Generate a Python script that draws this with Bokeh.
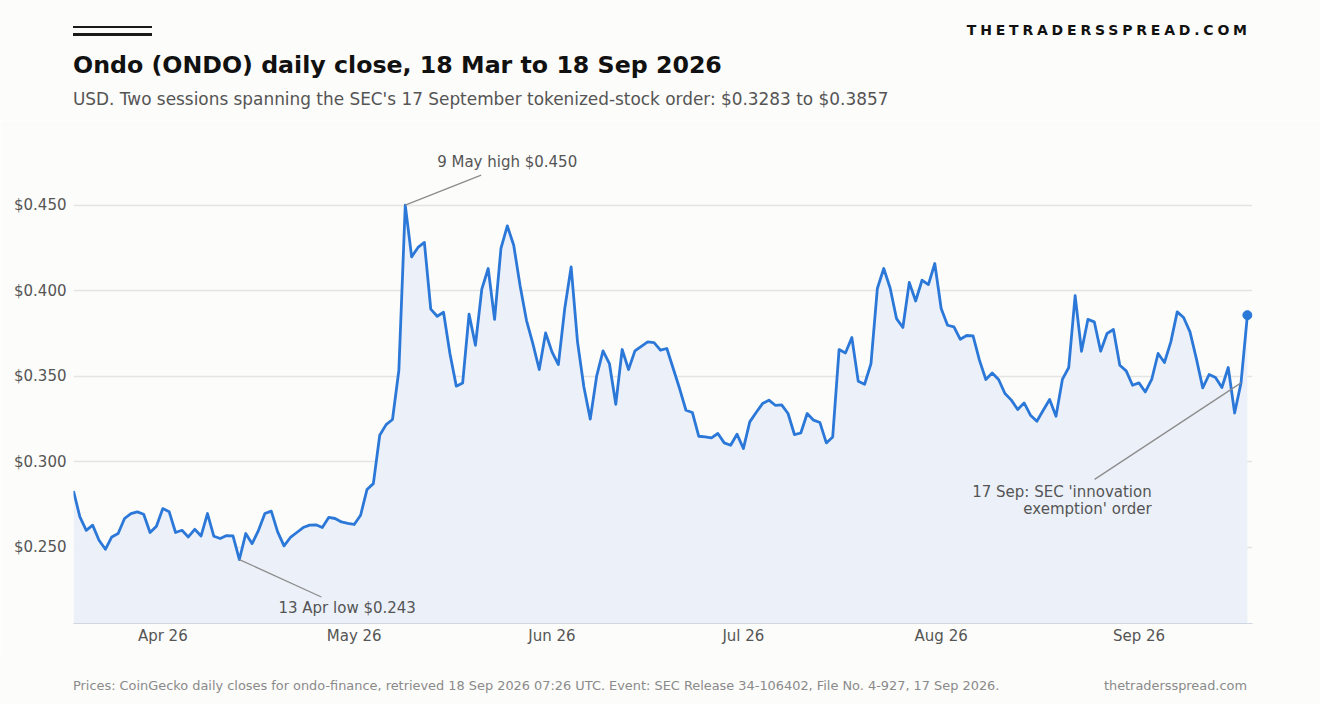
import pandas as pd
from bokeh.plotting import figure
from bokeh.models import (ColumnDataSource, Div, Label, Range1d, FixedTicker,
                          DatetimeTickFormatter, NumeralTickFormatter)
from bokeh.layouts import column
from bokeh.embed import file_html
from bokeh.resources import INLINE

# daily closes, USD, 18 Mar .. 18 Sep 2026
START = "2026-03-18"
END = "2026-09-18"
EVENT_DAY = "2026-09-17"
CLOSES = [
    0.2829, 0.2677, 0.2599, 0.2629, 0.2541, 0.2488, 0.2560, 0.2580, 0.2668, 0.2697,
    0.2707, 0.2693, 0.2586, 0.2623, 0.2726, 0.2707, 0.2586, 0.2599, 0.2560, 0.2605,
    0.2566, 0.2697, 0.2564, 0.2551, 0.2568, 0.2566, 0.2428, 0.2580, 0.2521, 0.2599,
    0.2697, 0.2711, 0.2590, 0.2508, 0.2557, 0.2586, 0.2615, 0.2629, 0.2631, 0.2615,
    0.2674, 0.2668, 0.2648, 0.2640, 0.2633, 0.2687, 0.2837, 0.2872, 0.3155, 0.3217,
    0.3247, 0.3535, 0.4500, 0.4198, 0.4253, 0.4282, 0.3892, 0.3851, 0.3874, 0.3633,
    0.3442, 0.3461, 0.3863, 0.3681, 0.4009, 0.4130, 0.3832, 0.4247, 0.4379, 0.4266,
    0.4029, 0.3827, 0.3691, 0.3539, 0.3753, 0.3642, 0.3568, 0.3896, 0.4139, 0.3701,
    0.3437, 0.3249, 0.3500, 0.3648, 0.3574, 0.3336, 0.3656, 0.3539, 0.3648, 0.3675,
    0.3701, 0.3697, 0.3652, 0.3662, 0.3545, 0.3428, 0.3301, 0.3288, 0.3149, 0.3145,
    0.3139, 0.3165, 0.3110, 0.3096, 0.3161, 0.3077, 0.3233, 0.3288, 0.3340, 0.3360,
    0.3330, 0.3332, 0.3282, 0.3159, 0.3168, 0.3282, 0.3243, 0.3229, 0.3110, 0.3145,
    0.3656, 0.3636, 0.3726, 0.3471, 0.3453, 0.3574, 0.4013, 0.4130, 0.4016, 0.3837,
    0.3785, 0.4048, 0.3940, 0.4061, 0.4036, 0.4159, 0.3896, 0.3798, 0.3788, 0.3716,
    0.3738, 0.3736, 0.3594, 0.3481, 0.3519, 0.3481, 0.3399, 0.3360, 0.3305, 0.3344,
    0.3272, 0.3237, 0.3301, 0.3364, 0.3266, 0.3481, 0.3551, 0.3971, 0.3646, 0.3832,
    0.3818, 0.3646, 0.3750, 0.3773, 0.3564, 0.3531, 0.3447, 0.3461, 0.3408, 0.3481,
    0.3633, 0.3580, 0.3701, 0.3876, 0.3843, 0.3759, 0.3603, 0.3432, 0.3510, 0.3492,
    0.3434, 0.3551, 0.3285, 0.3461, 0.3857,
]
Y_TICKS = [0.25, 0.30, 0.35, 0.40, 0.45]
MONTH_TICKS = ["2026-04-01", "2026-05-01", "2026-06-01",
               "2026-07-01", "2026-08-01", "2026-09-01"]

TITLE = "Ondo (ONDO) daily close, 18 Mar to 18 Sep 2026"
SUBTITLE = ("USD. Two sessions spanning the SEC's 17 September tokenized-stock order: "
            "$0.3283 to $0.3857")
SOURCE_NOTE = ("Prices: CoinGecko daily closes for ondo-finance, retrieved 18 Sep 2026 07:26 UTC. "
               "Event: SEC Release 34-106402, File No. 4-927, 17 Sep 2026.")
BRAND = "THETRADERSSPREAD.COM"
SITE = "thetradersspread.com"

FONT = "DejaVu Sans"
BG = "#fcfcfa"
BLUE = "#2b78d8"
FILL = "#ecf1f9"
GREY = "#555555"
LEAD = "#8c8c8c"
DAY = 86400000.0
Y_MIN, Y_MAX = 0.2054, 0.4966
W = 1320


def ms(ts):
    return pd.Timestamp(ts).value / 1e6


dates = pd.date_range(START, END, freq="D")
source = ColumnDataSource(data={"date": dates, "close": CLOSES})

p = figure(width=W, height=540, x_axis_type="datetime",
           x_range=Range1d(ms(START), ms(END) + 0.8 * DAY),
           y_range=Range1d(Y_MIN, Y_MAX),
           output_backend="svg", toolbar_location=None, tools="",
           min_border_left=73, min_border_right=68, min_border_top=5, min_border_bottom=37,
           background_fill_color=BG, border_fill_color=BG, outline_line_color=None)

p.varea(x="date", y1=Y_MIN, y2="close", source=source, fill_color=FILL)
p.line(x="date", y="close", source=source, line_color=BLUE, line_width=2.8, line_join="round")
p.scatter(x=[dates[-1]], y=[CLOSES[-1]], size=9, color=BLUE)

# axes
p.yaxis.ticker = FixedTicker(ticks=Y_TICKS)
p.yaxis.formatter = NumeralTickFormatter(format="$0.000")
p.yaxis.axis_line_color = None
p.yaxis.major_label_standoff = 7
p.ygrid.ticker = FixedTicker(ticks=Y_TICKS)
p.ygrid.grid_line_color = "#e4e4e4"
p.ygrid.grid_line_width = 1.3
p.xgrid.grid_line_color = None

fmt = "%b %y"
p.xaxis.ticker = FixedTicker(ticks=[ms(m) for m in MONTH_TICKS])
p.xaxis.formatter = DatetimeTickFormatter(
    microseconds=fmt, milliseconds=fmt, seconds=fmt, minsec=fmt, minutes=fmt,
    hourmin=fmt, hours=fmt, days=fmt, months=fmt, years=fmt)
p.xaxis.axis_line_color = "#cfd7e2"
p.xaxis.axis_line_width = 1.2
p.xaxis.major_label_standoff = 3

for ax in (p.xaxis, p.yaxis):
    ax.major_tick_line_color = None
    ax.minor_tick_line_color = None
    ax.major_tick_out = 0
    ax.major_tick_in = 0
    ax.minor_tick_out = 0
    ax.major_label_text_font = FONT
    ax.major_label_text_font_size = "15px"
    ax.major_label_text_color = GREY

# annotations: high, low, event
hi = CLOSES.index(max(CLOSES))
lo = CLOSES.index(min(CLOSES))
ev = dates.get_loc(pd.Timestamp(EVENT_DAY))

hx, hy = ms(dates[hi]), CLOSES[hi]
lx, ly = ms(dates[lo]), CLOSES[lo]
ex, ey = ms(dates[ev]), CLOSES[ev]

p.segment(x0=[hx, lx, ex], y0=[hy, ly, ey],
          x1=[hx + 11.9 * DAY, lx + 12.85 * DAY, ex - 22.95 * DAY],
          y1=[hy + 0.0176, ly - 0.0219, ey - 0.0564],
          line_color=LEAD, line_width=1.3)


def note(x, y, text, align):
    p.add_layout(Label(x=x, y=y, text=text, text_align=align, text_baseline="middle",
                       text_font=FONT, text_font_size="15px", text_color=GREY))


d_hi = dates[hi]
d_lo = dates[lo]
note(hx + 5.0 * DAY, hy + 0.0252, f"{d_hi.day} {d_hi:%b} high ${hy:.3f}", "left")
note(lx + 16.9 * DAY, ly - 0.0284, f"{d_lo.day} {d_lo:%b} low ${ly:.3f}", "center")
note(ex - 14.0 * DAY, ey - 0.0640, "17 Sep: SEC 'innovation", "right")
note(ex - 14.0 * DAY, ey - 0.0740, "exemption' order", "right")

header = Div(width=W, height=120, margin=0, text=f"""
<div style="position:relative;width:{W}px;height:120px;background:{BG};font-family:'{FONT}';">
 <div style="position:absolute;left:73px;top:26px;width:79px;height:2px;background:#1a1a1a"></div>
 <div style="position:absolute;left:73px;top:33.3px;width:79px;height:2.5px;background:#1a1a1a"></div>
 <div style="position:absolute;right:69.2px;top:22.7px;font-size:14px;line-height:14px;font-weight:bold;
   letter-spacing:3.8px;color:#111;white-space:nowrap">{BRAND}</div>
 <div style="position:absolute;left:73px;top:53.6px;font-size:23.7px;line-height:23.7px;font-weight:bold;
   color:#111;white-space:nowrap">{TITLE}</div>
 <div style="position:absolute;left:73px;top:90.6px;font-size:16.9px;line-height:16.9px;
   color:{GREY};white-space:nowrap">{SUBTITLE}</div>
</div>""")

footer = Div(width=W, height=44, margin=0, text=f"""
<div style="position:relative;width:{W}px;height:44px;background:{BG};font-family:'{FONT}';
  font-size:12.9px;line-height:12.9px;color:#8a8a8a">
 <div style="position:absolute;left:73px;top:19.5px;white-space:nowrap">{SOURCE_NOTE}</div>
 <div style="position:absolute;right:73px;top:19.5px;white-space:nowrap">{SITE}</div>
</div>""")

layout = column(header, p, footer, spacing=0)
open("out.html", "w").write(file_html(layout, INLINE))
